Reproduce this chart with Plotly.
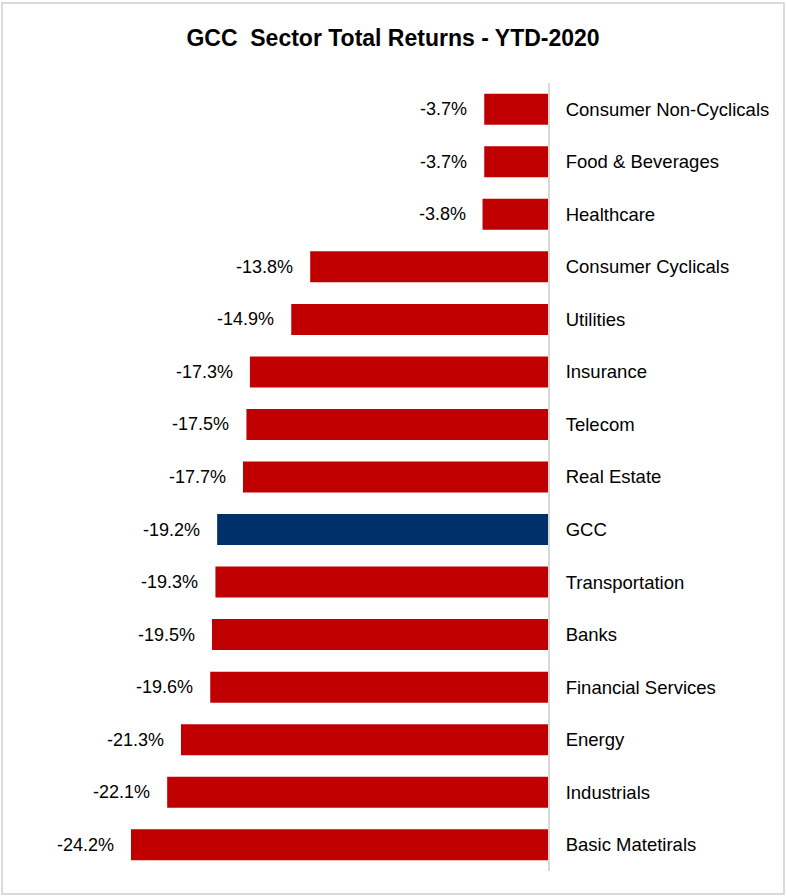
import plotly.graph_objects as go

categories = ["Consumer Non-Cyclicals", "Food & Beverages", "Healthcare", "Consumer Cyclicals",
              "Utilities", "Insurance", "Telecom", "Real Estate", "GCC", "Transportation",
              "Banks", "Financial Services", "Energy", "Industrials", "Basic Matetirals"]
values = [-3.7, -3.7, -3.8, -13.8, -14.9, -17.3, -17.5, -17.7, -19.2, -19.3,
          -19.5, -19.6, -21.3, -22.1, -24.2]
highlight = "GCC"

RED = "#C00000"
NAVY = "#003069"
colors = [NAVY if c == highlight else RED for c in categories]

FONT = "Liberation Sans, Arial, sans-serif"

fig = go.Figure()
fig.add_trace(go.Bar(
    x=values, y=categories, orientation="h",
    marker=dict(color=colors, line=dict(width=0)),
    hoverinfo="skip",
))

for c, v in zip(categories, values):
    fig.add_annotation(
        x=v, y=c, xref="x", yref="y",
        text=f"{v:.1f}%", showarrow=False,
        xanchor="right", xshift=-15,
        font=dict(family=FONT, size=18, color="#000000"),
    )

L, R, T, B = 50, 238, 83, 25
W, H = 786, 896
pw = W - L - R
ph = H - T - B
fig.add_shape(
    type="rect", xref="paper", yref="paper",
    x0=(2 - L) / pw, x1=(784 - L) / pw,
    y0=(H - B - 894) / ph, y1=(H - B - 3) / ph,
    line=dict(color="#d0d0d0", width=1.5), fillcolor="rgba(0,0,0,0)", layer="below",
)

fig.update_layout(
    width=W, height=H,
    margin=dict(l=L, r=R, t=T, b=B),
    paper_bgcolor="white", plot_bgcolor="white",
    showlegend=False,
    bargap=0.41,
    title=dict(
        text="<b>GCC  Sector Total Returns - YTD-2020</b>",
        x=0.5, xref="container", xanchor="center",
        y=1 - 38 / H, yref="container", yanchor="middle",
        font=dict(family=FONT, size=23, color="#000000"),
    ),
    font=dict(family=FONT, size=18, color="#000000"),
    xaxis=dict(range=[-28.9, 0], showgrid=False, zeroline=False, showticklabels=False,
               showline=False, fixedrange=True),
    yaxis=dict(autorange="reversed", side="right", showgrid=False, zeroline=False,
               showline=True, linecolor="#d9d9d9", linewidth=2,
               ticks="", ticklabelstandoff=12,
               tickfont=dict(family=FONT, size=18.5, color="#000000")),
)

fig.write_html("out.html", config={"displayModeBar": False},
               post_script="document.body.style.margin='0px';")
